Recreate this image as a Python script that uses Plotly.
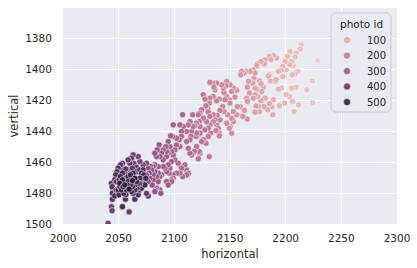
import numpy as np
import plotly.graph_objects as go

horizontal = [
    2213.9, 2213.0, 2228.6, 2209.4, 2208.5, 2204.0, 2201.6, 2205.5, 2203.4, 2199.5,
    2197.4, 2195.9, 2200.4, 2207.0, 2210.9, 2208.5, 2206.1, 2224.1, 2219.0, 2224.4,
    2211.5, 2207.6, 2206.1, 2203.4, 2205.5, 2209.4, 2198.9, 2194.4, 2200.4, 2195.9,
    2193.5, 2190.5, 2197.4, 2193.5, 2189.0, 2192.0, 2185.4, 2186.6, 2181.5, 2180.9,
    2185.4, 2177.9, 2174.6, 2174.0, 2171.0, 2172.5, 2168.0, 2164.4, 2162.6, 2160.5,
    2159.6, 2176.4, 2177.9, 2171.6, 2166.5, 2172.5, 2174.0, 2170.4, 2165.6, 2186.0,
    2191.4, 2184.5, 2180.0, 2178.5, 2181.5, 2185.4, 2187.5, 2189.0, 2183.9, 2188.4,
    2180.6, 2177.9, 2175.5, 2176.4, 2172.5, 2173.4, 2174.9, 2171.0, 2172.5,
    2167.4, 2165.0, 2165.6, 2162.9, 2161.4, 2165.6, 2159.0, 2156.6, 2154.5, 2156.0,
    2153.0, 2151.5, 2150.0, 2147.0, 2146.4, 2149.4, 2150.0, 2145.5, 2147.0, 2144.6,
    2144.0, 2142.5, 2138.0, 2136.5, 2134.4, 2135.6, 2132.0, 2143.4, 2141.0, 2138.6,
    2141.0, 2144.6, 2147.9, 2151.5, 2153.0, 2156.0, 2153.0, 2150.0, 2151.5, 2149.4,
    2147.0, 2140.4, 2138.0, 2135.0, 2132.0, 2131.4, 2129.9, 2128.4, 2130.5, 2132.0,
    2135.0, 2136.5, 2138.0, 2139.5, 2140.4, 2137.4, 2140.4, 2135.0,
    2126.0, 2127.5, 2124.5, 2123.0, 2121.5, 2122.4, 2120.0, 2118.5, 2123.0, 2126.0,
    2129.0, 2132.0, 2132.6, 2130.5, 2127.5, 2130.5, 2126.0, 2128.4, 2116.4, 2114.0,
    2112.5, 2115.5, 2117.0, 2111.0, 2114.9, 2119.4, 2120.0, 2121.5, 2123.0, 2124.5,
    2120.0, 2117.9, 2114.0, 2111.0, 2112.5, 2115.5, 2114.0, 2122.4, 2121.5, 2123.0,
    2131.4, 2108.0, 2106.5, 2105.0, 2107.4, 2106.5, 2104.4, 2102.0, 2099.0, 2105.0,
    2102.0, 2100.5, 2099.0, 2097.5, 2100.5, 2103.5, 2106.5, 2109.5, 2111.0, 2112.5,
    2111.0, 2107.4, 2105.0, 2102.0, 2099.0, 2097.5, 2095.4, 2093.0, 2091.5, 2090.0,
    2088.5, 2087.0, 2093.0, 2094.5, 2097.5, 2099.0,
    2098.4, 2096.6, 2094.5, 2092.4, 2090.0, 2088.5, 2086.4, 2084.6, 2082.5, 2084.0,
    2087.0, 2090.0, 2093.0, 2094.5, 2096.0, 2097.5, 2093.0, 2094.5, 2096.0, 2085.5,
    2082.5, 2081.0, 2078.6, 2076.5, 2079.5, 2082.5, 2085.5, 2084.0, 2081.0, 2077.4,
    2075.0, 2073.5, 2071.4, 2072.0, 2076.5, 2078.0, 2081.0, 2085.5, 2087.0, 2083.1,
    2087.9, 2084.0, 2080.1, 2082.5,
    2075.0, 2072.0, 2069.0, 2067.5, 2063.0, 2061.5, 2063.6, 2065.4, 2060.0, 2058.5,
    2059.4, 2057.0, 2055.5, 2054.0, 2053.4, 2051.6, 2049.5, 2048.6, 2047.4, 2046.5,
    2048.0, 2050.4, 2051.0, 2049.5, 2048.0, 2044.4, 2045.0, 2043.5, 2051.6, 2053.4,
    2056.4, 2058.5, 2060.6, 2063.0, 2064.5, 2066.0, 2067.5, 2069.0, 2070.5, 2072.0,
    2069.0, 2066.0, 2062.4, 2072.6, 2074.4, 2073.5, 2070.5, 2068.4, 2066.6, 2064.5,
    2063.0, 2061.5, 2060.0, 2057.0, 2056.4, 2054.6, 2052.5, 2050.4, 2048.0, 2051.0,
    2054.0, 2055.5, 2057.6, 2060.6, 2062.4, 2064.5, 2067.5, 2076.5, 2075.0, 2044.1,
    2044.4, 2046.5, 2056.1, 2064.5, 2059.4, 2053.4, 2058.5, 2062.4, 2069.0, 2056.4,
    2066.0,
    2043.5, 2044.1, 2053.4, 2059.4, 2040.5,
]

vertical = [
    1384.3, 1387.1, 1394.4, 1389.7, 1392.3, 1388.6, 1391.8, 1395.1, 1397.2, 1395.1,
    1398.3, 1400.9, 1400.5, 1397.9, 1401.5, 1403.0, 1403.7, 1407.7, 1413.4, 1421.8,
    1423.1, 1427.4, 1420.9, 1417.7, 1412.3, 1411.7, 1422.0, 1423.7, 1416.6, 1412.3,
    1413.0, 1408.0, 1404.8, 1401.5, 1391.4, 1392.9, 1391.8, 1394.0, 1394.0, 1396.6,
    1403.7, 1395.1, 1396.6, 1397.7, 1400.5, 1402.6, 1401.5, 1401.5, 1402.6, 1401.5,
    1403.7, 1407.4, 1409.5, 1405.8, 1408.0, 1412.3, 1413.0, 1409.1, 1411.7, 1407.6,
    1406.9, 1404.5, 1411.7, 1414.5, 1418.8, 1422.4, 1424.2, 1419.8, 1426.3, 1429.5,
    1424.2, 1420.5, 1424.2, 1427.4, 1427.8, 1423.7, 1417.7, 1418.8, 1416.6,
    1415.5, 1418.8, 1420.9, 1426.7, 1430.6, 1432.3, 1424.2, 1424.2, 1418.1, 1413.8,
    1412.3, 1414.5, 1410.2, 1408.0, 1410.8, 1419.8, 1422.0, 1419.8, 1417.7, 1415.1,
    1412.3, 1410.2, 1409.1, 1413.4, 1409.1, 1411.7, 1408.6, 1424.2, 1426.7, 1429.9,
    1432.8, 1427.4, 1429.5, 1431.7, 1433.9, 1429.5, 1427.4, 1437.1, 1441.4, 1438.2,
    1434.9, 1419.4, 1420.5, 1417.7, 1418.8, 1422.0, 1425.5, 1423.7, 1427.8, 1430.6,
    1429.5, 1432.8, 1436.0, 1438.2, 1441.4, 1439.7, 1443.1, 1434.0,
    1416.6, 1419.4, 1426.3, 1428.5, 1429.5, 1433.9, 1434.9, 1436.7, 1437.1, 1431.7,
    1433.9, 1436.0, 1441.4, 1438.2, 1439.2, 1443.5, 1445.7, 1447.9, 1429.5, 1433.9,
    1436.0, 1440.3, 1437.1, 1440.3, 1443.5, 1443.5, 1441.4, 1442.5, 1441.4, 1446.8,
    1450.0, 1453.2, 1445.7, 1446.8, 1451.1, 1455.4, 1454.3, 1453.2, 1458.0, 1454.3,
    1456.5, 1437.1, 1440.3, 1436.0, 1429.5, 1443.5, 1445.7, 1444.6, 1436.0, 1450.0,
    1449.0, 1452.2, 1455.4, 1459.7, 1458.6, 1460.8, 1464.0, 1461.8, 1465.1, 1467.2,
    1468.3, 1469.4, 1467.2, 1467.2, 1468.3, 1471.5, 1467.2, 1466.2, 1464.0, 1462.9,
    1468.3, 1469.4, 1472.6, 1474.8, 1472.6, 1470.5,
    1443.5, 1443.1, 1446.8, 1450.0, 1452.2, 1454.3, 1448.9, 1452.2, 1454.3, 1456.5,
    1456.5, 1458.6, 1456.5, 1454.3, 1450.0, 1453.2, 1453.2, 1461.8, 1464.0, 1462.9,
    1461.8, 1462.9, 1462.9, 1464.0, 1465.1, 1466.2, 1467.2, 1469.4, 1468.3, 1467.2,
    1468.3, 1470.5, 1471.5, 1474.8, 1472.6, 1470.5, 1471.5, 1472.6, 1478.0, 1478.0,
    1480.2, 1476.9, 1474.8, 1479.1,
    1460.8, 1461.8, 1459.7, 1456.5, 1455.4, 1457.5, 1460.8, 1462.9, 1460.8, 1458.6,
    1465.1, 1466.2, 1467.2, 1464.0, 1460.8, 1461.8, 1464.0, 1466.2, 1468.3, 1471.5,
    1472.6, 1471.5, 1475.9, 1478.0, 1480.2, 1480.2, 1478.0, 1473.7, 1469.4, 1467.2,
    1470.5, 1472.6, 1468.3, 1467.2, 1470.5, 1472.6, 1473.7, 1470.5, 1467.2, 1465.1,
    1465.1, 1466.2, 1464.0, 1468.3, 1470.5, 1474.8, 1476.9, 1478.0, 1476.9, 1478.0,
    1480.2, 1479.1, 1476.9, 1478.0, 1481.2, 1480.2, 1478.0, 1481.2, 1478.0, 1473.7,
    1475.9, 1474.8, 1474.8, 1474.8, 1475.9, 1474.8, 1481.2, 1481.9, 1480.2, 1475.9,
    1484.0, 1481.9, 1484.0, 1484.0, 1477.5, 1471.5, 1469.4, 1472.0, 1474.0, 1464.5,
    1463.5,
    1488.8, 1491.4, 1488.8, 1492.2, 1499.5,
]

photo_id = [
    45, 50, 20, 55, 60, 65, 70, 60, 75, 80,
    85, 90, 70, 55, 50, 60, 65, 40, 50, 45,
    55, 60, 65, 70, 60, 55, 80, 90, 75, 85,
    90, 95, 80, 90, 100, 95, 105, 105, 110, 115,
    100, 120, 125, 125, 135, 135, 140, 145, 150, 150,
    155, 115, 115, 130, 140, 130, 125, 135, 145, 100,
    95, 105, 110, 115, 110, 105, 100, 95, 105, 100,
    115, 120, 125, 120, 130, 130, 125, 135, 130,
    145, 150, 150, 160, 165, 155, 165, 170, 175, 170,
    175, 180, 180, 185, 190, 185, 185, 195, 190, 195,
    195, 200, 205, 210, 210, 210, 215, 200, 205, 210,
    205, 195, 190, 180, 175, 170, 175, 180, 180, 185,
    190, 205, 210, 215, 220, 220, 225, 225, 225, 225,
    215, 215, 210, 210, 205, 210, 205, 215,
    235, 235, 240, 245, 245, 245, 250, 255, 245, 240,
    235, 230, 230, 230, 235, 230, 240, 235, 260, 265,
    265, 260, 260, 270, 265, 255, 255, 250, 250, 245,
    255, 260, 265, 270, 270, 265, 265, 250, 250, 248,
    230, 280, 285, 285, 275, 285, 290, 290, 300, 285,
    290, 295, 300, 305, 295, 290, 285, 280, 275, 275,
    275, 280, 285, 290, 295, 300, 305, 310, 315, 315,
    320, 320, 310, 310, 300, 298,
    305, 310, 312, 318, 320, 325, 330, 335, 340, 335,
    328, 320, 315, 312, 308, 305, 315, 312, 308, 335,
    340, 345, 350, 355, 350, 342, 335, 338, 345, 355,
    360, 365, 370, 370, 360, 355, 348, 335, 330, 340,
    330, 338, 350, 345,
    380, 390, 400, 410, 420, 430, 420, 415, 430, 435,
    440, 445, 450, 450, 455, 460, 465, 470, 475, 480,
    485, 500, 520, 510, 490, 470, 465, 460, 520, 515,
    530, 540, 535, 520, 545, 540, 530, 510, 500, 480,
    470, 460, 455, 505, 520, 510, 495, 490, 500, 505,
    500, 510, 525, 530, 515, 520, 525, 505, 500, 545,
    550, 555, 550, 545, 540, 535, 480, 430, 440, 470,
    480, 495, 485, 470, 560, 540, 530, 555, 525, 460,
    450,
    420, 425, 510, 440, 410,
]

legend_ticks = [100, 200, 300, 400, 500]
x_ticks = [2000, 2050, 2100, 2150, 2200, 2250, 2300]
y_ticks = [1380, 1400, 1420, 1440, 1460, 1480, 1500]


def cubehelix(t, start=0.0, rot=0.4, gamma=1.0, hue=0.8, light=0.85, dark=0.15):
    x = light + (dark - light) * t
    xg = x ** gamma
    a = hue * xg * (1 - xg) / 2
    phi = 2 * np.pi * (start / 3 + rot * x)
    r = xg + a * (-0.14861 * np.cos(phi) + 1.78277 * np.sin(phi))
    g = xg + a * (-0.29227 * np.cos(phi) - 0.90649 * np.sin(phi))
    b = xg + a * (1.97294 * np.cos(phi))
    rgb = [int(round(255 * min(1, max(0, c)))) for c in (r, g, b)]
    return "rgb({},{},{})".format(*rgb)


cmin, cmax = min(photo_id), max(photo_id)
colorscale = [[s, cubehelix(s)] for s in np.linspace(0, 1, 32)]

order = np.argsort(photo_id, kind="stable")
hx = [horizontal[i] for i in order]
vy = [vertical[i] for i in order]
pid = [photo_id[i] for i in order]

txt = "#262626"
fig = go.Figure()
fig.add_trace(go.Scatter(
    x=hx, y=vy, mode="markers", showlegend=False, hoverinfo="skip",
    marker=dict(size=6.2, color=pid, colorscale=colorscale, cmin=cmin, cmax=cmax,
                line=dict(color="white", width=0.5)),
))

# legend drawn in a pixel-coordinate overlay (x2/y2)
box_l, box_r, box_t, box_b, rad = 331, 391, 13, 112, 3
bx = [box_l + rad, box_r - rad, box_r, box_r, box_r - rad, box_l + rad, box_l, box_l, box_l + rad]
by = [box_t, box_t, box_t + rad, box_b - rad, box_b, box_b, box_b - rad, box_t + rad, box_t]
fig.add_trace(go.Scatter(
    x=bx, y=by, xaxis="x2", yaxis="y2", mode="lines", fill="toself",
    fillcolor="#eaeaf2", line=dict(color="#cccccc", width=1),
    showlegend=False, hoverinfo="skip",
))
leg_y = [40, 55.5, 71, 86.5, 102]
fig.add_trace(go.Scatter(
    x=[347] * len(legend_ticks), y=leg_y, xaxis="x2", yaxis="y2", mode="markers",
    marker=dict(size=7, color=[cubehelix((v - cmin) / (cmax - cmin)) for v in legend_ticks],
                line=dict(color="white", width=0.5)),
    showlegend=False, hoverinfo="skip",
))
annotations = [dict(x=361, y=24, xref="x2", yref="y2", text="photo id", showarrow=False,
                    font=dict(size=10.5, color=txt), xanchor="center", yanchor="middle")]
for v, yy in zip(legend_ticks, leg_y):
    annotations.append(dict(x=365, y=yy, xref="x2", yref="y2", text=str(v), showarrow=False,
                            font=dict(size=10, color=txt), xanchor="left", yanchor="middle"))

fig.update_layout(
    width=417, height=268,
    margin=dict(l=63, r=20, t=8, b=44, autoexpand=False),
    paper_bgcolor="white", plot_bgcolor="#eaeaf2",
    font=dict(family="DejaVu Sans", color=txt, size=10.5),
    showlegend=False,
    annotations=annotations,
    xaxis2=dict(overlaying="x", range=[63, 397], visible=False, fixedrange=True),
    yaxis2=dict(overlaying="y", range=[224, 8], visible=False, fixedrange=True),
)
fig.update_layout(xaxis=dict(
    range=[2000, 2300], tickvals=x_ticks, automargin=False,
    showgrid=True, gridcolor="white", gridwidth=1, zeroline=False, showline=False,
    ticks="outside", ticklen=4, tickcolor="rgba(0,0,0,0)",
    tickfont=dict(size=10.5, color=txt),
    title=dict(text="horizontal", font=dict(size=11.5, color=txt), standoff=7),
))
fig.update_layout(yaxis=dict(
    range=[1500, 1360.6], tickvals=y_ticks, automargin=False,
    showgrid=True, gridcolor="white", gridwidth=1, zeroline=False, showline=False,
    ticks="outside", ticklen=8, tickcolor="rgba(0,0,0,0)",
    tickfont=dict(size=10.5, color=txt),
    title=dict(text="vertical", font=dict(size=11.5, color=txt), standoff=4),
))

fig.write_html("out.html", config={"displayModeBar": False},
               post_script="document.body.style.margin='0';document.body.style.padding='0';")
